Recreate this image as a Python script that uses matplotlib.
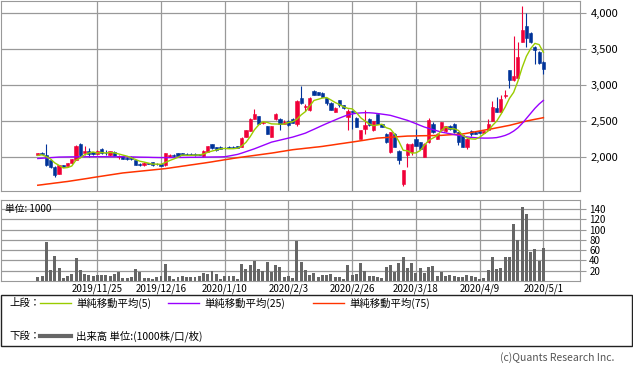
import numpy as np
import pandas as pd
import matplotlib
matplotlib.use('Agg')
import matplotlib.pyplot as plt
from matplotlib.patches import Rectangle
from matplotlib.lines import Line2D

plt.rcParams['font.family'] = ['Noto Sans CJK JP', 'DejaVu Sans']

# ---- data (daily candles, 2019/11 - 2020/5/1) ----
tick_labels = ['2019/11/25', '2019/12/16', '2020/1/10', '2020/2/3',
               '2020/2/26', '2020/3/18', '2020/4/9', '2020/5/1']
tick_index = [14, 29, 44, 59, 74, 89, 104, 119]

opens = [2035, 2060, 2040, 1960, 1870, 1775, 1890, 1875, 1920, 1970,
         2190, 2065, 2085, 2070, 2050, 2110, 2065, 2030, 2080, 2005,
         2015, 1995, 2010, 1965, 1905, 1890, 1920, 1935, 1915, 1910,
         1890, 2005, 2040, 2055, 2055, 2050, 2050, 2050, 2045, 2015,
         2075, 2180, 2145, 2150, 2135, 2150, 2150, 2160, 2150, 2290,
         2365, 2535, 2570, 2480, 2430, 2290, 2530, 2535, 2470, 2510,
         2535, 2470, 2830, 2700, 2660, 2915, 2905, 2890, 2820, 2760,
         2630, 2790, 2720, 2560, 2640, 2550, 2260, 2400, 2530, 2375,
         2595, 2465, 2330, 2075, 2330, 2095, 1635, 2030, 2075, 2260,
         2210, 2005, 2210, 2470, 2260, 2375, 2360, 2440, 2470, 2350,
         2310, 2145, 2360, 2350, 2365, 2345, 2385, 2505, 2690, 2630,
         2850, 3210, 3070, 3095, 3600, 3820, 3730, 3530, 3460, 3325]
highs = [2065, 2070, 2190, 1975, 1880, 1895, 1900, 1925, 1980, 2170,
         2195, 2155, 2125, 2080, 2100, 2125, 2100, 2090, 2085, 2040,
         2020, 2010, 2015, 1970, 1920, 1930, 1925, 1940, 1920, 1915,
         2060, 2045, 2045, 2060, 2060, 2065, 2055, 2055, 2050, 2100,
         2160, 2185, 2150, 2155, 2145, 2155, 2160, 2165, 2280, 2380,
         2540, 2675, 2580, 2500, 2440, 2435, 2620, 2540, 2520, 2520,
         2545, 2790, 2990, 2740, 2835, 2930, 2910, 2900, 2825, 2770,
         2695, 2795, 2730, 2670, 2645, 2555, 2380, 2655, 2540, 2510,
         2600, 2470, 2335, 2355, 2335, 2100, 1825, 2195, 2195, 2400,
         2215, 2195, 2540, 2490, 2335, 2495, 2440, 2450, 2475, 2355,
         2315, 2265, 2375, 2360, 2370, 2370, 2535, 2780, 2840, 2860,
         2930, 3215, 3680, 3600, 4095, 4000, 3740, 3540, 3470, 3330]
lows = [2030, 2045, 1880, 1860, 1735, 1770, 1865, 1870, 1915, 1965,
        2025, 2040, 2000, 2035, 2045, 2050, 2030, 2025, 2015, 1975,
        1980, 1970, 1970, 1895, 1880, 1885, 1905, 1880, 1900, 1875,
        1885, 2000, 2010, 2015, 2030, 2030, 2035, 2025, 2030, 2010,
        2070, 2115, 2095, 2110, 2120, 2125, 2125, 2130, 2145, 2285,
        2360, 2530, 2465, 2470, 2320, 2285, 2525, 2385, 2465, 2440,
        2475, 2440, 2745, 2650, 2650, 2860, 2860, 2835, 2720, 2655,
        2625, 2700, 2670, 2385, 2400, 2415, 2255, 2330, 2440, 2370,
        2465, 2420, 2205, 2055, 2140, 1915, 1600, 1865, 2040, 2160,
        2115, 2000, 2205, 2345, 2255, 2370, 2355, 2385, 2345, 2170,
        2140, 2120, 2300, 2320, 2340, 2340, 2380, 2500, 2625, 2625,
        2820, 2955, 3060, 3090, 3595, 3530, 3580, 3290, 3300, 3160]
closes = [2060, 2050, 1890, 1870, 1750, 1890, 1870, 1920, 1975, 2165,
          2030, 2095, 2045, 2045, 2095, 2065, 2055, 2085, 2020, 2020,
          1985, 1980, 1975, 1900, 1900, 1925, 1910, 1900, 1905, 1880,
          2055, 2040, 2015, 2020, 2035, 2035, 2040, 2030, 2035, 2095,
          2155, 2125, 2105, 2115, 2125, 2130, 2130, 2135, 2275, 2375,
          2530, 2605, 2470, 2490, 2330, 2430, 2595, 2460, 2490, 2445,
          2480, 2780, 2755, 2715, 2830, 2865, 2865, 2840, 2750, 2660,
          2690, 2720, 2680, 2650, 2625, 2420, 2375, 2455, 2445, 2505,
          2470, 2425, 2215, 2350, 2150, 1960, 1820, 2180, 2190, 2165,
          2120, 2190, 2515, 2350, 2330, 2490, 2430, 2390, 2350, 2210,
          2145, 2260, 2320, 2330, 2345, 2365, 2470, 2700, 2630, 2815,
          2870, 3070, 3125, 3395, 3765, 3650, 3600, 3490, 3310, 3230]
# closes before the window, needed for the 5-day average
prev_closes = [2010, 2020, 2030, 2020]

ma25 = [1985, 1989, 1993, 1997, 2001, 2005,
        2006, 2007, 2008, 2008, 2009, 2009, 2010, 2010, 2010, 2010, 2010, 2009, 2009, 2010, 2010,
        2008, 2007, 2006, 2004, 2003, 2002, 2000, 1999, 1998, 1998,
        1998, 1999, 2000, 2000, 2001, 2002, 2002, 2003, 2004,
        2005, 2006, 2007, 2008, 2010,
        2020, 2031, 2042,
        2060, 2080, 2100, 2120,
        2143, 2166, 2189, 2212,
        2226, 2240, 2254, 2268, 2282,
        2300, 2318, 2337,
        2364, 2390, 2417, 2444,
        2470, 2495, 2520, 2545,
        2568, 2590, 2603, 2612,
        2617, 2620, 2619, 2615,
        2608, 2600, 2592, 2583,
        2566, 2549, 2531, 2514,
        2491, 2468, 2444, 2421,
        2403, 2386, 2368, 2351,
        2340, 2329, 2317, 2306,
        2295, 2285, 2278, 2273, 2270, 2268, 2268, 2270, 2275,
        2288, 2305, 2330, 2365, 2410, 2470, 2540, 2610, 2680, 2740, 2790]
ma75 = [1615, 1622, 1630, 1637, 1645, 1652, 1660, 1667,
        1676, 1685, 1694, 1703, 1712, 1722, 1731, 1740,
        1749, 1758, 1767, 1776, 1785,
        1791, 1797, 1803, 1809, 1815, 1821, 1827, 1833, 1839, 1845,
        1853, 1862, 1870, 1879, 1887, 1896, 1904, 1913, 1921, 1930,
        1939, 1949, 1958, 1968, 1977, 1987, 1996,
        2004, 2012, 2020, 2028, 2036, 2044, 2052, 2060,
        2069, 2079, 2088, 2098, 2107,
        2114, 2120, 2127, 2133, 2140, 2146, 2153,
        2162, 2170, 2179, 2188, 2196, 2205, 2213, 2222,
        2231, 2240, 2250, 2259, 2268,
        2272, 2276, 2280, 2284, 2288, 2292, 2296,
        2297, 2298, 2300, 2301, 2302, 2303, 2305, 2306,
        2310, 2314, 2318, 2321, 2325,
        2335, 2346, 2356, 2367, 2377, 2388, 2398,
        2410, 2421, 2433, 2444,
        2459, 2474, 2489, 2504,
        2516, 2528, 2539, 2551]

volume = [8, 10, 76, 21, 49, 25, 6, 10, 14, 45,
          21, 14, 12, 10, 12, 12, 12, 10, 14, 18,
          6, 6, 8, 23, 18, 6, 6, 4, 8, 10,
          33, 10, 4, 8, 10, 8, 8, 8, 10, 16,
          14, 20, 14, 4, 10, 10, 10, 4, 33, 23,
          31, 39, 23, 20, 37, 18, 31, 27, 8, 10,
          6, 78, 37, 21, 12, 16, 8, 12, 12, 14,
          8, 8, 4, 31, 12, 14, 35, 20, 10, 10,
          8, 6, 27, 31, 18, 35, 47, 25, 35, 16,
          25, 16, 27, 29, 10, 18, 10, 12, 10, 8,
          8, 12, 10, 8, 4, 6, 21, 47, 23, 25,
          47, 47, 111, 80, 144, 130, 56, 62, 39, 64]

UP = '#f00038'
DOWN = '#003399'
GRID = '#999999'

o = np.array(opens)
h = np.array(highs)
l = np.array(lows)
c = np.array(closes)
x = np.arange(len(c))
ma5 = pd.Series(prev_closes + closes).rolling(5).mean().values[len(prev_closes):]
cols = [UP if cc >= oo else DOWN for oo, cc in zip(o, c)]

W, H = 633, 374
fig = plt.figure(figsize=(W / 100, H / 100), dpi=100)

def px_axes(left, top, right, bottom):
    return fig.add_axes([left / W, 1 - bottom / H, (right - left) / W, (bottom - top) / H])

xmin, xmax = -8.78, 127.5

# ---- upper panel: candles + moving averages ----
ax1 = px_axes(0.5, 0.5, 579.5, 190.5)
ax1.vlines(x, l, h, colors=cols, lw=0.8, zorder=2)
ax1.bar(x, np.abs(c - o), bottom=np.minimum(o, c), width=0.75, color=cols,
        edgecolor=cols, linewidth=0.4, zorder=2)
ax1.plot(x, ma75, color='#ff3300', lw=1.1, zorder=3)
ax1.plot(x, ma25, color='#9900ff', lw=1.0, zorder=3)
ax1.plot(x, ma5, color='#99cc00', lw=1.0, zorder=3)
ax1.set_xlim(xmin, xmax)
ax1.set_ylim(1542, 4174)
ax1.set_xticks(tick_index)
ax1.set_yticks([2000, 2500, 3000, 3500, 4000])
ax1.set_yticklabels(['{:,}'.format(v) for v in [2000, 2500, 3000, 3500, 4000]])
ax1.yaxis.tick_right()
ax1.tick_params(axis='x', length=0, labelbottom=False)
ax1.tick_params(axis='y', length=4, color=GRID, labelsize=8, pad=4)
ax1.grid(True, color=GRID, lw=0.9)
ax1.set_axisbelow(True)
for s in ax1.spines.values():
    s.set_color(GRID)

# ---- lower panel: volume ----
ax2 = px_axes(0.5, 200, 579.5, 281)
ax2.bar(x, volume, width=0.7, color='#666666', zorder=2)
ax2.set_xlim(xmin, xmax)
ax2.set_ylim(0, 157.6)
ax2.set_xticks(tick_index)
ax2.set_xticklabels(tick_labels)
ax2.set_yticks(range(20, 141, 20))
ax2.yaxis.tick_right()
ax2.tick_params(axis='x', length=0, labelsize=7, pad=1.5)
ax2.tick_params(axis='y', length=4, color=GRID, labelsize=7, pad=3)
ax2.grid(True, color=GRID, lw=0.9)
ax2.set_axisbelow(True)
for s in ax2.spines.values():
    s.set_color(GRID)
fig.text(5 / W, 1 - 209 / H, '単位: 1000', fontsize=7, va='center')

# ---- legend box ----
fig.patches.append(Rectangle((0.5 / W, 1 - 346 / H), 631.5 / W, 51 / H,
                             transform=fig.transFigure, fill=False,
                             edgecolor='#222222', lw=1))
y1 = 1 - 303 / H
y2 = 1 - 336 / H
fig.text(9 / W, y1, '上段：', fontsize=7.5, va='center')
fig.text(9 / W, y2, '下段：', fontsize=7.5, va='center')
for x0, col, lab in [(40, '#99cc00', '単純移動平均(5)'),
                     (168, '#9900ff', '単純移動平均(25)'),
                     (313, '#ff3300', '単純移動平均(75)')]:
    fig.lines.append(Line2D([x0 / W, (x0 + 31) / W], [y1, y1], color=col, lw=1,
                            transform=fig.transFigure))
    fig.text((x0 + 36) / W, y1, lab, fontsize=7.5, va='center')
fig.lines.append(Line2D([40 / W, 71 / W], [y2, y2], color='#666666', lw=3,
                        transform=fig.transFigure))
fig.text(76 / W, y2, '出来高 単位:(1000株/口/枚)', fontsize=7.5, va='center')

fig.text(614 / W, 1 - 358 / H, '(c)Quants Research Inc.', fontsize=7.5,
         color='#555555', ha='right', va='center')

fig.savefig('out.png', dpi=100)
